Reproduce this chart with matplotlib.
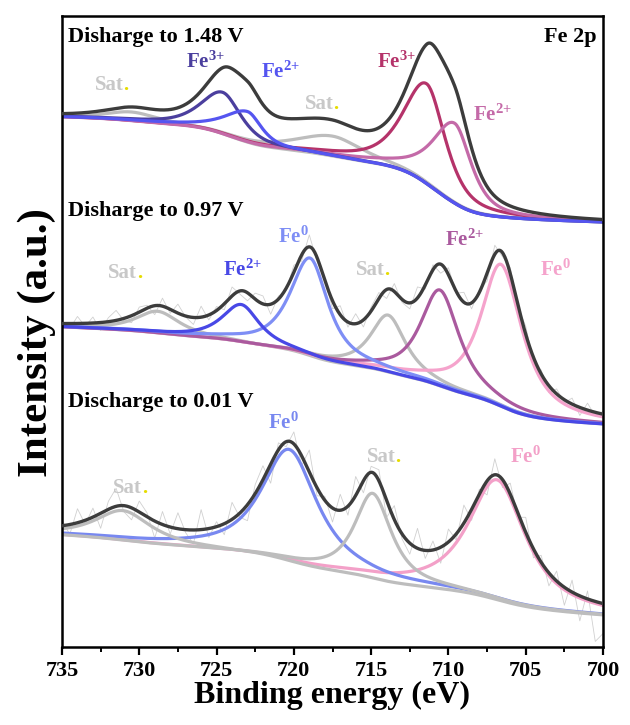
import numpy as np
import matplotlib.pyplot as plt

plt.rcParams['font.family'] = ['Liberation Serif', 'DejaVu Serif']
plt.rcParams['font.weight'] = 'bold'
plt.rcParams['mathtext.default'] = 'regular'

# ---- peak fit parameters (centre eV, height, fwhm high-E side, fwhm low-E side)
# Disharge to 1.48 V : Sat, Fe3+, Fe2+, Sat, Fe3+, Fe2+
top_centers = [730.5, 724.6, 723.0, 717.5, 711.4, 709.6]
top_heights = [9, 42, 31, 20, 100, 80]
top_fwhm_hi = [4.0, 3.4, 3.6, 5.5, 3.6, 3.4]
top_fwhm_lo = [4.0, 2.8, 2.2, 4.5, 2.8, 2.6]
top_bg = [425, 530, 10]   # at 700 eV, at 735 eV, linear part
top_eta = 0.7
top_residual = [720.3, 11, 6.0]   # measured curve above the fitted sum (centre, height, fwhm)

# Disharge to 0.97 V : Sat, Fe2+, Fe0, Sat, Fe2+, Fe0
mid_centers = [728.8, 723.4, 718.95, 713.9, 710.55, 706.6]
mid_heights = [22, 38, 98, 57, 96, 142]
mid_fwhm_hi = [3.4, 3.0, 3.1, 2.7, 3.0, 3.1]
mid_fwhm_lo = [3.4, 2.8, 2.8, 2.7, 3.0, 3.3]
mid_bg = [223, 320, 20]
mid_eta = 0.85

# Discharge to 0.01 V : Sat, Fe0, Sat, Fe0
bot_centers = [731.05, 720.3, 714.9, 706.85]
bot_heights = [30, 112, 85, 120]
bot_fwhm_hi = [4.3, 4.3, 2.8, 4.4]
bot_fwhm_lo = [4.3, 4.3, 2.9, 4.4]
bot_bg = [32, 112, 30]
bot_eta = 0.85

# raw spectrum deviations from the envelope, every 0.5 eV from 735 to 700
mid_raw_dev = [2, -5, 7, -3, 6, -8, 4, 10, -2, -7, 5, 3, -9, 8, -4, 9, -1, -7, 11, -5,
               4, -6, 9, -3, -8, 6, 8, -10, 3, -2, 7, -6, 12, -4, 2, -8, 9, -5, 10, -7,
               4, 6, -9, 8, -3, -6, 11, -4, 5, -9, 7, -2, 10, -6, 3, -8, 9, -4, 6, -2,
               8, -5, 4, -7, 5, -3, 6, -8, 7, -4, 3]
bot_raw_dev = [6, -10, 14, -4, 9, -15, 8, 18, -6, -12, 11, 4, -17, 13, -7, 16, -3, -14, 20, -9,
               5, -11, 17, -4, -16, 9, 14, -19, 7, -5, 12, -10, 22, -8, 4, -14, 16, -9, 19, -12,
               6, 11, -17, 14, -5, -11, 20, -8, 9, -16, 13, -6, 18, -11, 5, -14, 16, -8, 11, -4,
               15, -9, 7, -13, 10, -18, 12, -25, 8, -40, -30]

tick_vals = [735, 730, 725, 720, 715, 710, 705, 700]
tick_labels = ['735', '730', '725', '720', '715', '710', '705', '700']

top_colors = ['#bdbdbd', '#4b3f9e', '#5555f0', '#bdbdbd', '#b5336a', '#c46aa8']
top_order = [0, 3, 4, 5, 1, 2]
mid_colors = ['#bdbdbd', '#4848e6', '#7e8ef5', '#bdbdbd', '#aa5a9e', '#f5a3cc']
mid_order = [0, 3, 5, 4, 2, 1]
bot_colors = ['#bdbdbd', '#7888f0', '#bdbdbd', '#f3a0c8']
bot_order = [3, 1, 0, 2]

energy = np.linspace(735, 700, 701)


def peak(e, c, h, w_hi, w_lo, eta):
    w = np.where(e >= c, w_hi, w_lo)
    x = (e - c) / w
    return h * (eta / (1 + 4 * x ** 2) + (1 - eta) * np.exp(-4 * np.log(2) * x ** 2))


def fit(centers, heights, w_hi, w_lo, bg, eta):
    comps = [peak(energy, c, h, a, b, eta) for c, h, a, b in zip(centers, heights, w_hi, w_lo)]
    total = np.sum(comps, axis=0)
    cum = np.cumsum(total[::-1])[::-1]
    frac = cum / cum[0]
    lo, hi, lin = bg
    base = lo + lin * (energy - 700) / 35 + (hi - lo - lin) * frac
    return base, comps, base + total


fig = plt.figure(figsize=(6.3, 7.25), dpi=100)
ax = fig.add_axes([62 / 630, 78 / 725, 541 / 630, 631 / 725])

panels = [
    (top_centers, top_heights, top_fwhm_hi, top_fwhm_lo, top_bg, top_eta, top_colors, top_order, None, top_residual),
    (mid_centers, mid_heights, mid_fwhm_hi, mid_fwhm_lo, mid_bg, mid_eta, mid_colors, mid_order, mid_raw_dev, None),
    (bot_centers, bot_heights, bot_fwhm_hi, bot_fwhm_lo, bot_bg, bot_eta, bot_colors, bot_order, bot_raw_dev, None),
]
for cen, hgt, whi, wlo, bg, eta, cols, order, raw, resid in panels:
    base, comps, env = fit(cen, hgt, whi, wlo, bg, eta)
    if resid is not None:
        env = env + peak(energy, resid[0], resid[1], resid[2], resid[2], 0.0)
    if raw is not None:
        idx = np.linspace(0, len(energy) - 1, len(raw)).round().astype(int)
        ax.plot(energy[idx], env[idx] + np.array(raw), color='#d0d0d0', lw=0.6, zorder=1)
    for i in order:
        ax.plot(energy, base + comps[i], color=cols[i], lw=2.3, zorder=2,
                solid_capstyle='round')
    ax.plot(energy, env, color='#3c3c3c', lw=2.4, zorder=3)

# ---- labels
titles = ['Disharge to 1.48 V', 'Disharge to 0.97 V', 'Discharge to 0.01 V']
title_y = [610, 436, 245]
for t, y in zip(titles, title_y):
    ax.text(734.6, y, t, fontsize=16, fontweight='bold', ha='left', va='center')
ax.text(700.4, 610, 'Fe 2p', fontsize=16, fontweight='bold', ha='right', va='center')

peak_labels = [
    ('Fe$^{3{+}}$', 727.0, 585, '#4b3f9e'), ('Fe$^{2{+}}$', 722.1, 575, '#5555f0'),
    ('Fe$^{3{+}}$', 714.6, 585, '#b5336a'), ('Fe$^{2{+}}$', 708.4, 532, '#c46aa8'),
    ('Fe$^{2{+}}$', 724.6, 377, '#4848e6'), ('Fe$^{0}$', 721.0, 410, '#7e8ef5'),
    ('Fe$^{2{+}}$', 710.2, 407, '#aa5a9e'), ('Fe$^{0}$', 704.1, 377, '#f5a3cc'),
    ('Fe$^{0}$', 721.7, 224, '#7888f0'), ('Fe$^{0}$', 706.0, 190, '#f3a0c8'),
]
for s, x, y, c in peak_labels:
    ax.text(x, y, s, fontsize=15, fontweight='bold', color=c, ha='left', va='center')

sat_pos = [(732.9, 562), (719.3, 543), (732.0, 374), (716.0, 377), (731.7, 159), (715.3, 190)]
for x, y in sat_pos:
    t = ax.text(x, y, 'Sat', fontsize=15, fontweight='bold', color='#c8c8c8', ha='left', va='center')
    ax.annotate('.', xy=(1, 0), xycoords=t, fontsize=15, fontweight='bold', color='#e6dc00',
                ha='left', va='bottom')

ax.set_xlim(735, 700)
ax.set_ylim(0, 631)
ax.set_xticks(tick_vals, labels=tick_labels, fontsize=16, fontweight='bold',
              fontfamily='Liberation Serif')
ax.set_xticks(np.arange(732.5, 700, -5), minor=True)
ax.set_yticks([])
ax.tick_params(axis='x', which='major', direction='out', length=6, width=1.6, pad=4)
ax.tick_params(axis='x', which='minor', direction='out', length=3.5, width=1.4)
for sp in ax.spines.values():
    sp.set_linewidth(1.8)
ax.set_xlabel('Binding energy (eV)', fontsize=23, fontweight='bold', labelpad=0)
ax.set_ylabel('Intensity (a.u.)', fontsize=31, fontweight='bold')
ax.yaxis.set_label_coords(-0.012, 0.483)

fig.savefig('out.png', dpi=100)
